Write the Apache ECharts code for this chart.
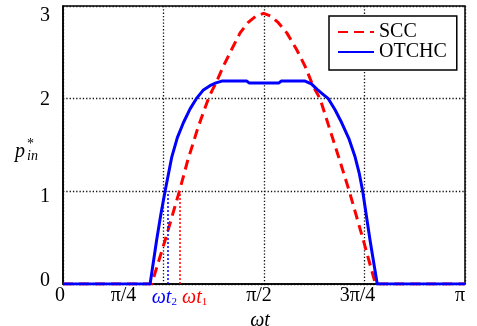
<!DOCTYPE html>
<html>
<head>
<meta charset="utf-8">
<script src="https://cdn.jsdelivr.net/npm/echarts@6/dist/echarts.min.js"></script>
<style>
html,body{margin:0;padding:0;background:#fff;}
#c{width:477px;height:326px;}
</style>
</head>
<body>
<div id="c"></div>
<script>
// ---- data (x in degrees of ωt, 180 = π) ----
const tickValues = [0, 45, 90, 135, 180];
const tickLabels = ['0', 'π/4', 'π/2', '3π/4', 'π'];
const yTicks = [0, 1, 2, 3];

const sccX = [0, 39.7, 45.7, 52.1, 55.8, 60.6, 65.1, 66.8, 68.5, 71.8, 75.5, 79.3, 82.8, 86.3, 89.8, 93.2, 96.4, 100.2, 104.6, 108.4, 111.4, 112.8, 115.1, 118.8, 123.7, 128.2, 134.5, 139.9, 180];
const sccY = [0, 0, 0.47, 1.0, 1.33, 1.7, 2.0, 2.09, 2.17, 2.35, 2.53, 2.71, 2.82, 2.89, 2.92, 2.89, 2.82, 2.71, 2.53, 2.35, 2.17, 2.1, 2.0, 1.72, 1.35, 1.0, 0.47, 0, 0];

const otchcX = [0, 39.0, 41.9, 43.8, 45.7, 48.7, 51.2, 53.9, 56.9, 59.7, 62.7, 65.8, 68.5, 71.1, 82.3, 83.3, 96.7, 97.7, 108.4, 111.2, 113.8, 116.3, 118.8, 121.8, 124.8, 128.0, 130.8, 132.6, 134.2, 137.5, 140.7, 180];
const otchcY = [0, 0, 0.47, 0.75, 1.0, 1.37, 1.58, 1.74, 1.89, 2.0, 2.09, 2.14, 2.17, 2.19, 2.19, 2.17, 2.17, 2.19, 2.19, 2.16, 2.1, 2.05, 2.0, 1.88, 1.74, 1.57, 1.37, 1.2, 1.0, 0.47, 0, 0];

const seriesNames = ['SCC', 'OTCHC'];
const wt2 = 46.9;   // ωt2 marker
const wt1 = 52.4;   // ωt1 marker
const markerTop = 1;

// ---- chart ----
const FONT = 'Liberation Serif, serif';
const chart = echarts.init(document.getElementById('c'), null, {renderer: 'canvas'});

const xShift = [6, 80, 10, 14, 10];
const xRich = {};
tickLabels.forEach((t, i) => { xRich['t' + i] = {fontFamily: FONT, fontSize: 20, color: '#000', padding: [0, xShift[i], 0, 0]}; });
const yPad = [[0, 0, 7, 0], [11, 0, 0, 0], [2, 0, 0, 0], [20, 0, 0, 0]];
const yRich = {};
yTicks.forEach((t, i) => { yRich['y' + i] = {fontFamily: FONT, fontSize: 20, color: '#000', padding: yPad[i]}; });

const dotted = {color: '#111', width: 1.3, type: [1.3, 2]};

chart.setOption({
  animation: false,
  backgroundColor: '#fff',
  textStyle: {fontFamily: FONT},
  grid: {left: 63, right: 12, top: 6, bottom: 42, show: true, borderColor: '#000', borderWidth: 1.5,
         containLabel: false, outerBoundsMode: 'none'},
  legend: {
    left: 329, top: 16, orient: 'vertical',
    backgroundColor: '#fff', borderColor: '#000', borderWidth: 1.5,
    padding: [6, 10, 8, 8], itemGap: 0, itemWidth: 36, itemHeight: 14,
    itemStyle: {opacity: 0},
    textStyle: {fontFamily: FONT, fontSize: 20, color: '#000'},
    data: seriesNames
  },
  xAxis: {
    type: 'value', min: 0, max: 180, interval: 45,
    name: 'ωt', nameLocation: 'middle', nameGap: 22,
    nameTextStyle: {fontFamily: FONT, fontSize: 20, fontStyle: 'italic', color: '#000', padding: [0, 8, 0, 0]},
    axisLine: {show: true, lineStyle: {color: '#000', width: 1.5}},
    axisTick: {show: false},
    axisLabel: {
      margin: 2, rich: xRich, fontFamily: FONT,
      formatter: v => { const i = tickValues.indexOf(v); return i < 0 ? '' : '{t' + i + '|' + tickLabels[i] + '}'; }
    },
    splitLine: {show: true, lineStyle: dotted}
  },
  yAxis: {
    type: 'value', min: 0, max: 3, interval: 1,
    axisLine: {show: true, lineStyle: {color: '#000', width: 1.5}},
    axisTick: {show: false},
    axisLabel: {
      margin: 13, rich: yRich, fontFamily: FONT,
      formatter: v => { const i = yTicks.indexOf(v); return i < 0 ? '' : '{y' + i + '|' + v + '}'; }
    },
    splitLine: {show: true, lineStyle: dotted}
  },
  series: [
    {
      name: seriesNames[0], type: 'line', symbol: 'none', z: 3,
      data: sccX.map((x, i) => [x, sccY[i]]),
      lineStyle: {color: '#ff0000', width: 3, type: [10, 6]},
      itemStyle: {color: '#ff0000'},
      markLine: {
        silent: true, symbol: 'none', label: {show: false},
        lineStyle: {color: '#ff0000', width: 1.5, type: [2, 2]},
        data: [[{coord: [wt1, 0]}, {coord: [wt1, markerTop]}]]
      }
    },
    {
      name: seriesNames[1], type: 'line', symbol: 'none', z: 4,
      data: otchcX.map((x, i) => [x, otchcY[i]]),
      lineStyle: {color: '#0000ff', width: 3, type: 'solid', join: 'round'},
      itemStyle: {color: '#0000ff'},
      markLine: {
        silent: true, symbol: 'none', label: {show: false},
        lineStyle: {color: '#0000ff', width: 1.5, type: [2, 2]},
        data: [[{coord: [wt2, 0]}, {coord: [wt2, markerTop]}]]
      }
    }
  ]
});

// annotations positioned through the axes
const p2 = chart.convertToPixel({gridIndex: 0}, [wt2, 0]);
const p1 = chart.convertToPixel({gridIndex: 0}, [wt1, 0]);
const pTitle = chart.convertToPixel({gridIndex: 0}, [0, 1.4]);
chart.setOption({
  graphic: [
    {type: 'text', left: p2[0] - 16, top: p2[1] + 4, z: 10,
     style: {text: '{w|ωt}{s|2}', rich: {
       w: {fontFamily: FONT, fontSize: 20, fontStyle: 'italic', fill: '#0000ff'},
       s: {fontFamily: FONT, fontSize: 11, fill: '#0000ff', padding: [9, 0, 0, 0]}}}},
    {type: 'text', left: p1[0] + 2, top: p1[1] + 4, z: 10,
     style: {text: '{w|ωt}{s|1}', rich: {
       w: {fontFamily: FONT, fontSize: 20, fontStyle: 'italic', fill: '#ff0000'},
       s: {fontFamily: FONT, fontSize: 11, fill: '#ff0000', padding: [9, 0, 0, 0]}}}},
    {type: 'text', x: 15, y: pTitle[1] - 3, z: 10,
     style: {text: 'p', fontFamily: FONT, fontSize: 20, fontStyle: 'italic', fill: '#000', verticalAlign: 'middle'}},
    {type: 'text', x: 27, y: pTitle[1] - 10, z: 10,
     style: {text: '*', fontFamily: FONT, fontSize: 14, fill: '#000', verticalAlign: 'middle'}},
    {type: 'text', x: 27, y: pTitle[1] + 2, z: 10,
     style: {text: 'in', fontFamily: FONT, fontSize: 14, fontStyle: 'italic', fill: '#000', verticalAlign: 'middle'}}
  ]
});
</script>
</body>
</html>
